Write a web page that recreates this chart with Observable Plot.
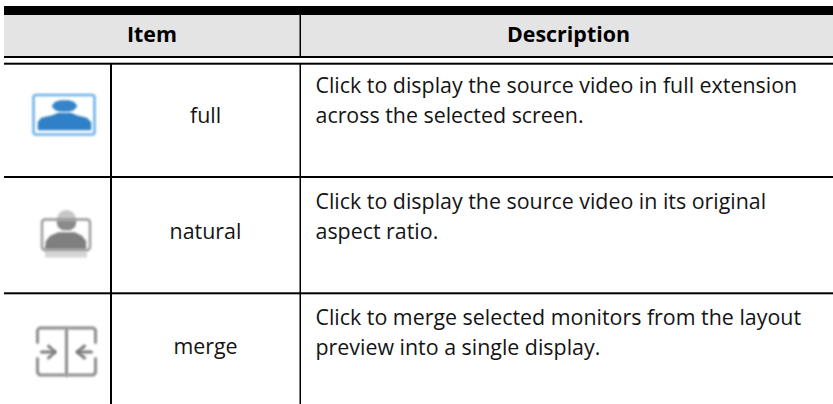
<!DOCTYPE html>
<html><head><meta charset="utf-8">
<script src="https://cdn.jsdelivr.net/npm/d3@7"></script>
<script src="https://cdn.jsdelivr.net/npm/@observablehq/plot@0.6"></script>
<style>html,body{margin:0;padding:0;background:#fff}svg{display:block}</style>
</head><body><script>
const headers = ["Item", "Description"];
const items = ["full", "natural", "merge"];
const descriptions = [
  "Click to display the source video in full extension\nacross the selected screen.",
  "Click to display the source video in its original\naspect ratio.",
  "Click to merge selected monitors from the layout\npreview into a single display."
];
const W = 833, H = 404;
const font = "'Open Sans','Noto Sans',sans-serif";
const ink = "#141414";

const bars = [[4,833,6,15],[4,833,56,58],[4,833,62.7,64.7],[4,833,176,178],[4,833,292.3,294.3],
              [110,112,64,404],[299.5,301,15,56],[299.5,301,64,404]];
const R = (a, o = {}) => Plot.rect(a, {x1:d=>d[0], x2:d=>d[1], y1:d=>d[2], y2:d=>d[3], ...o});
const P = (a, o = {}) => Plot.line(a, {x:d=>d[0], y:d=>d[1], ...o});
const B = "blur(1px)";
const tx = {lineAnchor:"bottom", fontSize:21.4, fontFamily:font};

const marks = [
  R([[4,833,15,56]], {fill:"#e4e4e4"}),
  R(bars, {fill:"#000"}),
  Plot.text([headers[0]], {x:()=>151.5, y:()=>41.7, text:d=>d, fontWeight:700, fill:"#000", ...tx}),
  Plot.text([headers[1]], {x:()=>568, y:()=>41.7, text:d=>d, fontWeight:700, fill:"#000", ...tx}),
  Plot.text(items, {x:()=>205, y:(d,i)=>[122,238,353.5][i], text:d=>d, fill:ink, ...tx}),
  Plot.text(descriptions, {x:()=>315, y:(d,i)=>[122,238,354][i], text:d=>d, textAnchor:"start", lineHeight:1.36, fill:ink, ...tx}),

  // full icon
  R([[33.5,94.5,95,134.5]], {fill:"#fff", stroke:"#6cb2ea", strokeWidth:2.6, rx:2.5, imageFilter:B}),
  P([[38,129],[38,122],[41,118],[52,115.5],[58,113],[70,113],[76,115.5],[86,118],[90,122],[90,129],[38,129]], {fill:"#2f80c6", stroke:"#2f80c6", imageFilter:B}),
  P([[52,105.5],[55,102],[60,100.5],[68,100.5],[73,102],[76,105.5],[73,109],[68,110.5],[60,110.5],[55,109],[52,105.5]], {fill:"#3585c8", stroke:"#3585c8", imageFilter:B}),

  // natural icon
  R([[45,87,251,257.5]], {fill:"#d6d6d6", imageFilter:B}),
  Plot.dot([[66,219]], {x:d=>d[0], y:d=>d[1], r:9.5, fill:"#c6c6c6", imageFilter:B}),
  R([[42,90,219.5,250]], {fill:"none", stroke:"#999", strokeWidth:2.4, rx:3, imageFilter:B}),
  P([[57,221],[75,221],[74,226],[70,229],[62,229],[58,226],[57,221]], {fill:"#8a8a8a", stroke:"#8a8a8a", imageFilter:B}),
  P([[45,248],[46,241],[50,236],[58,232.5],[74,232.5],[81,236],[85,241],[85,248],[45,248]], {fill:"#7f7f7f", stroke:"#7f7f7f", imageFilter:B}),

  // merge icon
  P([[64,327.5],[39,327.5],[37,329.5],[37,342]], {stroke:"#8c8c8c", strokeWidth:3, imageFilter:B}),
  P([[37,358],[37,372],[39,374.5],[64,374.5]], {stroke:"#8c8c8c", strokeWidth:3, imageFilter:B}),
  P([[68,327.5],[93,327.5],[95,329.5],[95,342]], {stroke:"#8c8c8c", strokeWidth:3, imageFilter:B}),
  P([[95,358],[95,372],[93,374.5],[68,374.5]], {stroke:"#8c8c8c", strokeWidth:3, imageFilter:B}),
  P([[66,327],[66,375]], {stroke:"#8c8c8c", strokeWidth:3, imageFilter:B}),
  P([[41,351.5],[54,351.5]], {stroke:"#7a7a7a", strokeWidth:3, imageFilter:B}),
  P([[48,345.5],[54.5,351.5],[48,357.5]], {stroke:"#7a7a7a", strokeWidth:3, imageFilter:B}),
  P([[91,351.5],[77,351.5]], {stroke:"#7a7a7a", strokeWidth:3, imageFilter:B}),
  P([[84,345.5],[77,351.5],[84,357.5]], {stroke:"#7a7a7a", strokeWidth:3, imageFilter:B})
];

document.body.append(Plot.plot({
  width: W, height: H,
  margin: 0,
  x: {type:"linear", domain:[0,W], range:[0,W], axis:null},
  y: {type:"linear", domain:[0,H], range:[0,H], axis:null},
  style: {background:"#fff", fontFamily:font},
  marks
}));
</script></body></html>
